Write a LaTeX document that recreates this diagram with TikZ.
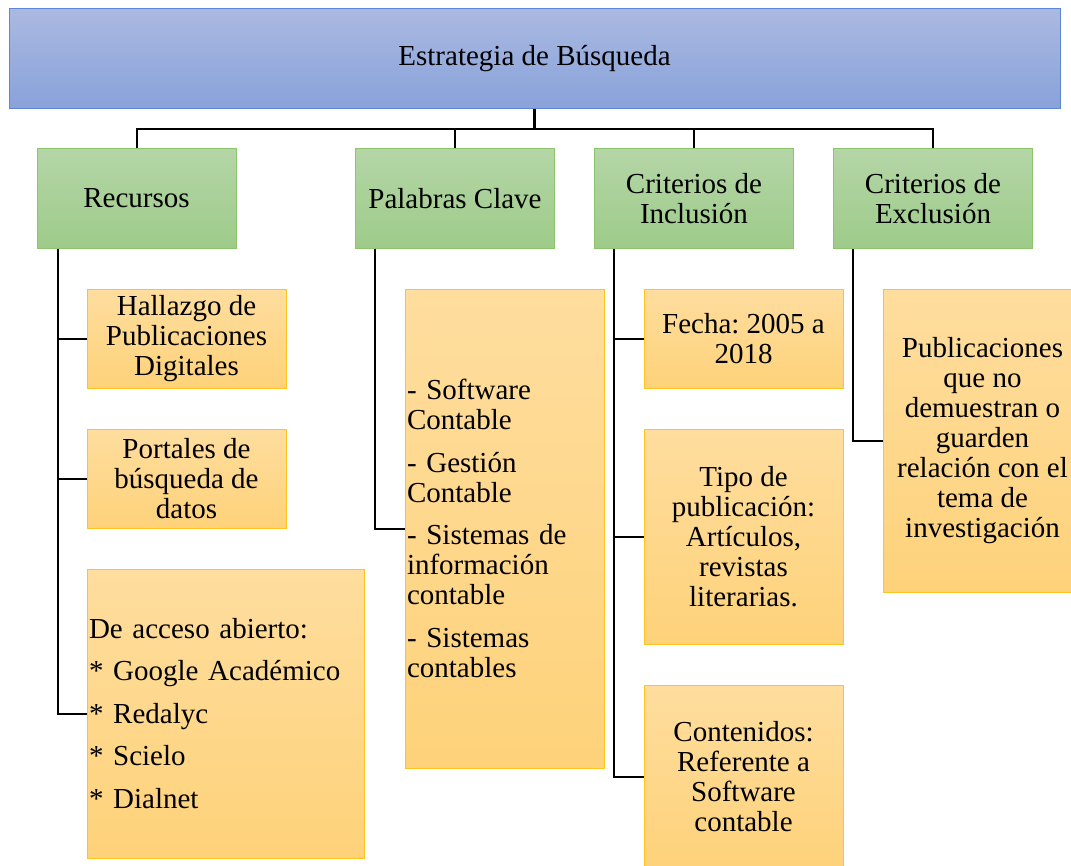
\documentclass[tikz,border=0pt]{standalone}
\usepackage{fontspec}
\setmainfont{Liberation Serif}
\frenchspacing
\definecolor{bluetop}{RGB}{170,185,225}
\definecolor{bluebot}{RGB}{137,162,218}
\definecolor{blueline}{RGB}{95,135,210}
\definecolor{greentop}{RGB}{181,214,167}
\definecolor{greenbot}{RGB}{157,203,137}
\definecolor{greenline}{RGB}{140,196,110}
\definecolor{orangetop}{RGB}{254,221,158}
\definecolor{orangebot}{RGB}{254,210,122}
\definecolor{orangeline}{RGB}{255,196,30}
\tikzset{
  basebox/.style={rectangle, inner sep=0pt, line width=1pt,
    font=\fontsize{29}{30}\selectfont\frenchspacing, text=black},
  topbox/.style={basebox, draw=blueline, top color=bluetop, bottom color=bluebot},
  greenbox/.style={basebox, draw=greenline, top color=greentop, bottom color=greenbot, align=center},
  orangebox/.style={basebox, draw=orangeline, top color=orangetop, bottom color=orangebot, align=center},
  listbox/.style={orangebox, align=left, inner xsep=2pt},
  conn/.style={draw=black, line width=2pt},
  stem/.style={draw=black, line width=3pt},
}
\begin{document}
\begin{tikzpicture}[x=1pt, y=-1pt]
\clip (0,0) rectangle (1071,865);
\fill[white] (0,0) rectangle (1071,865);
% top
\node[topbox, minimum width=1051pt, minimum height=100pt] (top) at (534.5,58.5) {Estrategia de Búsqueda};
% level 1
\node[greenbox, minimum width=199pt, minimum height=100pt] (rec) at (136.5,198.5) {Recursos};
\node[greenbox, minimum width=199pt, minimum height=100pt] (pal) at (455,198.5) {Palabras Clave};
\node[greenbox, minimum width=199pt, minimum height=100pt] (inc) at (694,198.5) {Criterios de\\Inclusión};
\node[greenbox, minimum width=199pt, minimum height=100pt] (exc) at (933,198.5) {Criterios de\\Exclusión};
% bus
\coordinate (bus) at (534.5,129);
\draw[stem] (top.south) -- (bus);
\draw[conn] (rec.north) -- (rec.north |- bus) -- (exc.north |- bus) -- (exc.north);
\draw[conn] (pal.north) -- (pal.north |- bus);
\draw[conn] (inc.north) -- (inc.north |- bus);
% Recursos children
\node[orangebox, minimum width=199pt, minimum height=99pt] (hal) at (186.5,338.5) {Hallazgo de\\Publicaciones\\Digitales};
\node[orangebox, minimum width=199pt, minimum height=99pt] (por) at (186.5,478.5) {Portales de\\búsqueda de\\datos};
\node[listbox, text width=273pt, minimum width=277pt, minimum height=289pt] (acc) at (225.5,713.5) {De acceso abierto:\\[12.5pt]* Google Académico\\[12.5pt]* Redalyc\\[12.5pt]* Scielo\\[12.5pt]* Dialnet};
\coordinate (recrail) at ([xshift=21pt]rec.south west);
\draw[conn] (recrail) |- (hal.west);
\draw[conn] (recrail) |- (por.west);
\draw[conn] (recrail) |- (acc.west);
% Palabras child
\node[listbox, text width=195pt, minimum width=199pt, minimum height=479pt] (kw) at (504.5,528.5) {- Software\\Contable\\[12.5pt]- Gestión\\Contable\\[12.5pt]- Sistemas de\\información\\contable\\[12.5pt]- Sistemas\\contables};
\coordinate (palrail) at ([xshift=20pt]pal.south west);
\draw[conn] (palrail) |- (kw.west);
% Inclusion children
\node[orangebox, minimum width=199pt, minimum height=99pt] (fec) at (743.5,338.5) {Fecha: 2005 a\\2018};
\node[orangebox, minimum width=199pt, minimum height=215pt] (tip) at (743.5,536.5) {Tipo de\\publicación:\\Artículos,\\revistas\\literarias.};
\node[orangebox, minimum width=199pt, minimum height=184pt] (con) at (743.5,777) {Contenidos:\\Referente a\\Software\\contable};
\coordinate (incrail) at ([xshift=20pt]inc.south west);
\draw[conn] (incrail) |- (fec.west);
\draw[conn] (incrail) |- (tip.west);
\draw[conn] (incrail) |- (con.west);
% Exclusion child
\node[orangebox, minimum width=199pt, minimum height=303pt] (pub) at (982.5,440.5) {Publicaciones\\que no\\demuestran o\\guarden\\relación con el\\tema de\\investigación};
\coordinate (excrail) at ([xshift=20pt]exc.south west);
\draw[conn] (excrail) |- (pub.west);
\end{tikzpicture}
\end{document}
